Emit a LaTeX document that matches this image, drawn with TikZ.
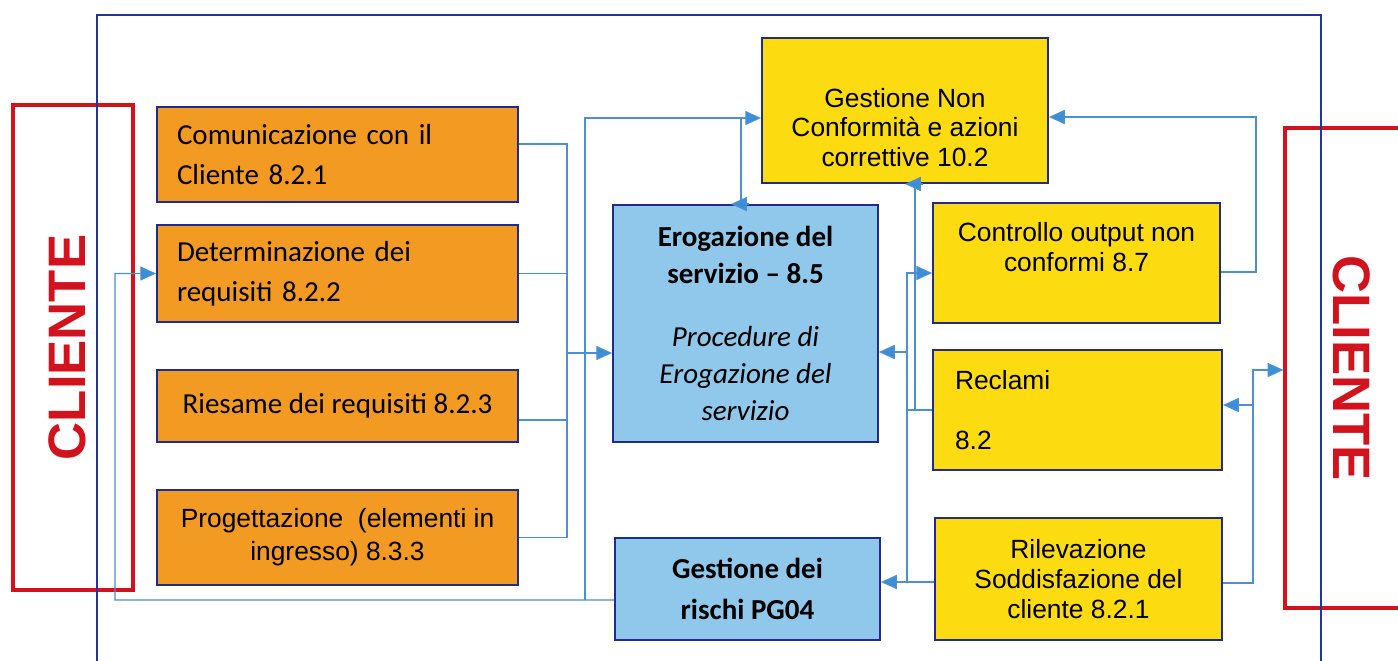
\documentclass[tikz,border=0pt]{standalone}
\usepackage{fontspec}
\setmainfont{Liberation Sans}
\newfontfamily\calibri{Carlito}
\usetikzlibrary{positioning,arrows.meta,calc}

\definecolor{boxorange}{HTML}{F29A22}
\definecolor{boxyellow}{HTML}{FCDC10}
\definecolor{boxblue}{HTML}{8FC8EA}
\definecolor{edgenavy}{HTML}{1F2C8F}
\definecolor{lineblue}{HTML}{4A90D2}
\definecolor{tipblue}{HTML}{3A8FD8}
\definecolor{frameblue}{HTML}{23349C}
\definecolor{clired}{HTML}{D2121C}

\tikzset{
  box/.style={draw=edgenavy, line width=1.1pt, inner sep=0pt},
  obox/.style={box, fill=boxorange, font=\calibri\fontsize{16.5}{22.7}\selectfont},
  oboxa/.style={box, fill=boxorange, font=\fontsize{15}{18.7}\selectfont, align=center},
  ybox/.style={box, fill=boxyellow, font=\fontsize{15}{17}\selectfont, align=center},
  bbox/.style={box, fill=boxblue, font=\calibri\fontsize{16.5}{21}\selectfont, align=center},
  cli/.style={draw=clired, line width=1.8pt, text=clired, font=\bfseries\fontsize{30}{30}\selectfont},
  ln/.style={draw=lineblue, line width=0.8pt},
  arr/.style={ln, -{Triangle[length=9pt,width=8pt,fill=tipblue]}},
  tiponly/.style={draw=lineblue, line width=0.8pt, -{Triangle[length=9pt,width=8pt,fill=tipblue]}},
}

\begin{document}
\begin{tikzpicture}[x={(0.02cm,0)}, y={(0,-0.02cm)}]
\clip (0,0) rectangle (1398,660);
\fill[white] (0,0) rectangle (1398,660);

% cliente
\node[cli, minimum width=2.40cm, minimum height=9.70cm] (cliL) at (73,347.5) {};
\node[text=clired, font=\bfseries\fontsize{30}{30}\selectfont, rotate=90] (cliLt) at (67,347.5) {CLIENTE};
\node[cli, minimum width=2.68cm, minimum height=9.60cm] (cliR) at (1352,368) {};
\node[text=clired, font=\bfseries\fontsize{30}{30}\selectfont, rotate=-90] (cliRt) at (1352,368) {CLIENTE};

% frame
\draw[frameblue, line width=1.1pt] (97,15) rectangle (1321,700);

% requisiti
\node[obox, minimum width=7.22cm, minimum height=1.90cm, text width=6.42cm, align=left] (com) at (337.5,154.5) {Comunicazione con il\\Cliente 8.2.1};
\node[obox, minimum width=7.22cm, minimum height=1.94cm, text width=6.42cm, align=left] (det) at (337.5,273.5) {Determinazione dei\\requisiti 8.2.2};
\node[obox, minimum width=7.22cm, minimum height=1.44cm, align=center] (ries) at (337.5,406) {Riesame dei requisiti 8.2.3};
\node[oboxa, minimum width=7.22cm, minimum height=1.90cm] (prog) at (337.5,537.5) {Progettazione~ (elementi in\\ingresso) 8.3.3};

% erogazione
\node[bbox, minimum width=5.30cm, minimum height=4.74cm] (ero) at (745.5,323.5)
  {\textbf{Erogazione del}\\\textbf{servizio – 8.5}\\[15pt]\textit{Procedure di}\\\textit{Erogazione del}\\\textit{servizio}};
\node[bbox, font=\calibri\fontsize{16.5}{23}\selectfont, minimum width=5.30cm, minimum height=2.04cm] (risk) at (747.5,589)
  {\textbf{Gestione dei}\\\textbf{rischi PG04}};

% non conformita
\node[ybox, minimum width=5.72cm, minimum height=2.90cm] (nc) at (905,110.5) {};
\node[font=\fontsize{15}{17}\selectfont, align=center] (nct) at ([yshift=-0.34cm]nc.center) {Gestione Non\\Conformità e azioni\\correttive 10.2};
\node[ybox, minimum width=5.74cm, minimum height=2.40cm] (ctrl) at (1076.5,263) {};
\node[font=\fontsize{15}{17}\selectfont, align=center] (ctrlt) at ([yshift=0.32cm]ctrl.center) {Controllo output non\\conformi 8.7};
\node[ybox, minimum width=5.78cm, minimum height=2.40cm, text width=4.90cm, align=left] (recl) at (1077.5,410) {Reclami\\[17pt]8.2};
\node[ybox, minimum width=5.74cm, minimum height=2.44cm] (ril) at (1078.5,579) {Rilevazione\\Soddisfazione del\\cliente 8.2.1};

% junctions
\coordinate (jL) at (567,353);
\coordinate (jB) at (585,600);
\coordinate (jC) at (115,600);
\coordinate (jT) at (741,118);
\coordinate (jR) at (907,582);
\coordinate (jE) at (907,352);
\coordinate (jN) at (915,410);
\coordinate (jK) at (1256,117);
\coordinate (jS) at (1253,370);
\coordinate (jQ) at (1253,405);

% left side
\draw[ln] ([yshift=0.21cm]com.east) -| (jL);
\draw[ln] (det.east) -| (jL);
\draw[ln] ([yshift=-0.28cm]ries.east) -| (jL);
\draw[ln] (prog.east) -| (jL);
\draw[arr] (jL) -- (jL -| ero.west);
\draw[arr] ([yshift=-0.22cm]risk.west) -- (jC) |- (det.west);
\draw[arr] (jB) |- ([yshift=-0.15cm]nc.west);
\draw[ln] (jT) -- (jT |- ero.north);
\draw[tiponly] ($(jT |- ero.north)+(8,0)$) -- ++(-18,0);

% right side
\draw[arr] ([yshift=-0.06cm]ril.west) -- ([yshift=-0.06cm]ril.west -| risk.east);
\draw[arr] (jR) |- ([yshift=-0.2cm]ctrl.west);
\draw[arr] (jE) -- (jE -| ero.east);
\draw[ln] (recl.west) -- (recl.west -| jR);
\draw[ln] (jN) -- (jN |- nc.south);
\draw[tiponly] ($(jN |- nc.south)+(8,0)$) -- ++(-18,0);
\draw[arr] ([yshift=-0.18cm]ctrl.east) -| (jK) -- (jK -| nc.east);
\draw[arr] ([yshift=-0.08cm]ril.east) -| (jS) -- (jS -| cliR.west);
\draw[arr] (jQ) -- (jQ -| recl.east);
\end{tikzpicture}
\end{document}
